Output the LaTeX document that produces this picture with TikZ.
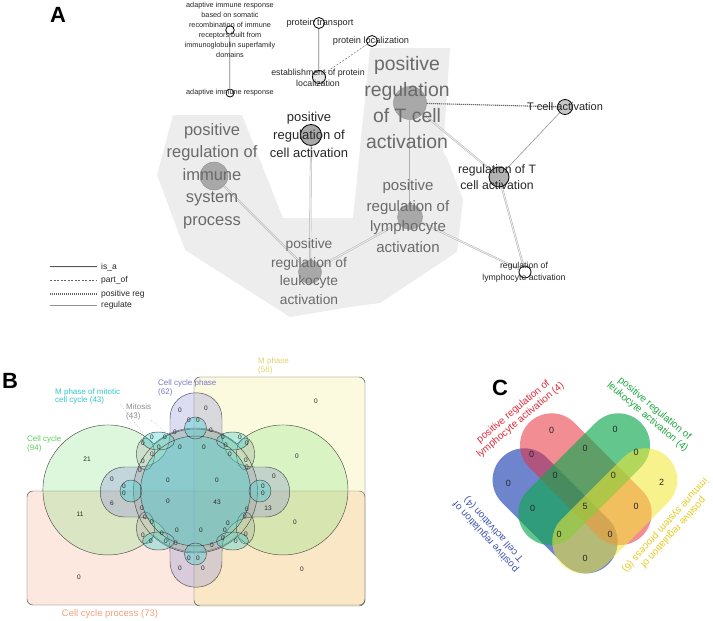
\documentclass[tikz,border=0pt]{standalone}
\usepackage{fontspec}
\setmainfont{Liberation Sans}
\usetikzlibrary{positioning}
\newcommand{\fsz}[2]{\fontsize{#1}{#2}\selectfont}
\definecolor{goFill}{HTML}{A8A8A8}
\definecolor{goRing}{HTML}{969696}
\definecolor{goText}{HTML}{6A6A6A}
\definecolor{goHull}{HTML}{EDEDED}
\definecolor{goEdge}{HTML}{AEAEAE}
\definecolor{vOrange}{HTML}{F4A582}
\definecolor{vYellow}{HTML}{F2E86A}
\definecolor{vGreen}{HTML}{78E078}
\definecolor{vPurple}{HTML}{8A8AD8}
\definecolor{vCyan}{HTML}{3CD2D2}
\definecolor{vGray}{HTML}{9A9A9A}
\definecolor{vLine}{HTML}{4A4A4A}
\definecolor{vOrangeT}{HTML}{F0A07A}
\definecolor{vYellowT}{HTML}{DDD36A}
\definecolor{vGreenT}{HTML}{5CCF5C}
\definecolor{vPurpleT}{HTML}{7878C8}
\definecolor{vCyanT}{HTML}{36C6C6}
\definecolor{vGrayT}{HTML}{8C8C8C}
\definecolor{qBlue}{HTML}{3050B8}
\definecolor{qRed}{HTML}{E8303C}
\definecolor{qGreen}{HTML}{10A850}
\definecolor{qYellow}{HTML}{F2E830}
\definecolor{qBlueT}{HTML}{4055B5}
\definecolor{qRedT}{HTML}{E02A38}
\definecolor{qGreenT}{HTML}{1EAA3C}
\definecolor{qYellowT}{HTML}{E6CA1E}
\tikzset{
  % GO graph: one circle per term, size = significance.
  go/term/.style={circle, inner sep=0pt, fill=goFill, draw=goRing, line width=0.5pt},
  go/key/.style={go/term, draw=black, line width=0.8pt},
  go/leaf/.style={go/term, fill=white, draw=black, line width=0.8pt},
  % Term names. Gray inside the summarised cluster, near black elsewhere.
  go/name/.style={align=center, inner sep=0pt, text=black!85},
  go/hub/.style={go/name, text=goText},
  % Relations, same look as in the legend.
  go/isa/.style={draw=goEdge, double=goHull, double distance=1pt, line width=0.45pt},
  go/partof/.style={draw=black!60, dash pattern=on 2pt off 1.5pt, line width=0.45pt},
  go/posreg/.style={draw=black!60, dash pattern=on 1.2pt off 0.8pt, line width=1.1pt},
  go/reg/.style={draw=goEdge!85!black, line width=0.6pt},
  go/legend/.style={font=\fsz{8.5}{9}, anchor=west, inner sep=0pt, text=black!85},
  go/panel/.style={font=\bfseries\fsz{22}{22}, inner sep=0pt},
  % Six set venn: thin dark rims, light fills.
  vb/set/.style={draw=vLine, line width=0.45pt, fill opacity=0.26},
  vb/num/.style={font=\fsz{6.5}{7}, text=black!85, inner sep=0pt},
  vb/lab/.style={font=\fsz{8}{8.5}, align=left, anchor=west, inner sep=0pt},
  vb/lead/.style={draw=black!40, dotted, line width=0.5pt},
  % Four set venn: capsules, no rims.
  vc/blob/.style={line cap=round, line width=63.4pt},
  vc/num/.style={font=\fsz{9}{9}, text=black!85, inner sep=0pt},
  vc/lab/.style={font=\fsz{10}{11}, align=center, inner sep=0pt},
}

\begin{document}
\begin{tikzpicture}[x=1pt,y=-1pt]
  \useasboundingbox (0,0) rectangle (713,621);

  % ---------------- A: GO term graph
  \node[go/panel] (panA) at (58,15) {A};
  \fill[goHull] (173,115) -- (242,115) -- (283,218) -- (353,218) -- (370,48)
    -- (450,48) -- (443,152) -- (447,158) -- (463,200) -- (457,252)
    -- (380,303) -- (350,307) -- (290,317) -- (185,250) -- (157,175) -- cycle;

  \node[go/leaf, minimum size=8.5pt] (adaSom) at (230,30) {};
  \node[go/leaf, minimum size=8pt]   (ada)    at (230,93) {};
  \node[go/leaf, minimum size=11pt]  (protTr) at (319,23) {};
  \node[go/leaf, minimum size=11pt]  (protLoc) at (372,41) {};
  \node[go/leaf, fill=black!8, minimum size=13pt] (estLoc) at (319,77) {};
  \node[go/key, minimum size=21pt]   (posCell) at (311,135) {};
  \node[go/term, minimum size=28pt]  (posImm) at (214,176) {};
  \node[go/term, minimum size=23pt]  (posLeu) at (310,272) {};
  \node[go/term, minimum size=33pt]  (posT)   at (410,103) {};
  \node[go/term, minimum size=25pt]  (posLym) at (410,217) {};
  \node[go/key, fill=black!22, minimum size=15pt] (tAct) at (565,107) {};
  \node[go/key, fill=black!30, minimum size=20pt] (regT) at (499,177) {};
  \node[go/leaf, minimum size=12pt]  (regLym) at (525,272) {};

  \draw[go/isa] (adaSom) -- (ada);
  \draw[go/isa] (protTr) -- (estLoc);
  \draw[go/partof] (protLoc) -- (estLoc);
  \draw[go/isa] (posCell) -- (posLeu);
  \draw[go/isa] (posImm) -- (posLeu);
  \draw[go/isa] (posLeu) -- (posLym);
  \draw[go/isa] (posT) -- (posLym);
  \draw[go/posreg] (posT) -- (tAct);
  \draw[go/isa] (posT) -- (regT);
  \draw[go/reg] (tAct) -- (regT);
  \draw[go/isa] (regT) -- (regLym);
  \draw[go/isa] (posLym) -- (regLym);

  \node[go/name, font=\fsz{7.3}{10}] (adaSomTxt) at (230,30)
    {adaptive immune response\\based on somatic\\recombination of immune\\receptors built from\\immunoglobulin superfamily\\domains};
  \node[go/name, font=\fsz{7.3}{10}] (adaTxt) at (230,93) {adaptive immune response};
  \node[go/name, font=\fsz{9.2}{10}] (protTrTxt) at (320,23) {protein transport};
  \node[go/name, font=\fsz{9.2}{10}] (protLocTxt) at (371,41) {protein localization};
  \node[go/name, font=\fsz{8.8}{11}] (estLocTxt) at (318,77.5) {establishment of protein\\localization};
  \node[go/name, font=\fsz{13}{18}] (posCellTxt) at (309,135) {positive\\regulation of\\cell activation};
  \node[go/hub, font=\fsz{16.5}{22.5}] (posImmTxt) at (212,176) {positive\\regulation of\\immune\\system\\process};
  \node[go/hub, font=\fsz{13.8}{18.5}] (posLeuTxt) at (309,271.5) {positive\\regulation of\\leukocyte\\activation};
  \node[go/hub, font=\fsz{19.4}{26}] (posTTxt) at (407,102.5) {positive\\regulation\\of T cell\\activation};
  \node[go/hub, font=\fsz{15}{20.5}] (posLymTxt) at (408,216) {positive\\regulation of\\lymphocyte\\activation};
  \node[go/name, font=\fsz{11}{12}] (tActTxt) at (565,107) {T cell activation};
  \node[go/name, font=\fsz{12.2}{16}] (regTTxt) at (497,177) {regulation of T\\cell activation};
  \node[go/name, font=\fsz{8.7}{12}] (regLymTxt) at (524,272) {regulation of\\lymphocyte activation};

  % legend
  \coordinate (lgIsaA) at (50,267);  \coordinate (lgIsaB) at (97,267);
  \coordinate (lgPartA) at (50,280); \coordinate (lgPartB) at (97,280);
  \coordinate (lgPosA) at (50,294);  \coordinate (lgPosB) at (97,294);
  \coordinate (lgRegA) at (50,305);  \coordinate (lgRegB) at (97,305);
  \draw[go/isa, draw=black!65] (lgIsaA) -- (lgIsaB);
  \draw[go/partof] (lgPartA) -- (lgPartB);
  \draw[go/posreg] (lgPosA) -- (lgPosB);
  \draw[go/reg] (lgRegA) -- (lgRegB);
  \node[go/legend] (lgIsa)  at (101,267) {is\_a};
  \node[go/legend] (lgPart) at (101,280) {part\_of};
  \node[go/legend] (lgPos)  at (101,294) {positive reg};
  \node[go/legend] (lgReg)  at (101,305) {regulate};

  % ---------------- B: six set venn
  \node[go/panel] (panB) at (10,381) {B};
  \filldraw[vb/set, fill=vOrange, rounded corners=6pt] (27,491) rectangle (365,605);
  \filldraw[vb/set, fill=vYellow, fill opacity=0.22, rounded corners=6pt] (194,377) rectangle (365,606);
  \filldraw[vb/set, fill=vGreen] (153.9,444) arc[start angle=315, end angle=45, radius=65]
    arc[start angle=132.1, end angle=47.9, radius=62]
    arc[start angle=135, end angle=-135, radius=65]
    arc[start angle=-47.9, end angle=-132.1, radius=62] -- cycle;
  \filldraw[vb/set, fill=vPurple, fill opacity=0.3] (170,432) -- (170,419) .. controls (170,384) and (222,384) .. (222,419)
    -- (222,432) .. controls (222,455) and (235,467) .. (255,467)
    -- (265,467) .. controls (298,467) and (298,517) .. (265,517)
    -- (255,517) .. controls (235,517) and (222,529) .. (222,552)
    -- (222,561) .. controls (222,596) and (170,596) .. (170,561)
    -- (170,552) .. controls (170,529) and (157,517) .. (137,517)
    -- (125,517) .. controls (92,517) and (92,467) .. (125,467)
    -- (137,467) .. controls (157,467) and (170,455) .. (170,432) -- cycle;
  \filldraw[vb/set, fill=vGray] (195.5,491) circle (62)
    (145.5,454) ellipse [x radius=9, y radius=16] (245.5,454) ellipse [x radius=9, y radius=16]
    (145.5,528) ellipse [x radius=9, y radius=16] (245.5,528) ellipse [x radius=9, y radius=16];
  \filldraw[vb/set, fill=vCyan, fill opacity=0.36] (195.5,491) circle (55)
    (195.5,428) circle (11) (195.5,554) circle (11) (131,491) circle (11) (260,491) circle (11)
    (158.5,441) ellipse [x radius=16, y radius=9] (232.5,441) ellipse [x radius=16, y radius=9]
    (158.5,541) ellipse [x radius=16, y radius=9] (232.5,541) ellipse [x radius=16, y radius=9];

  \foreach \x/\y/\n [count=\i] in {316/401/0, 87/459/21, 297/456/0, 80/514/11, 295/522/0,
      79/577/0, 302/569/0, 180/410/0, 206/408/0, 189/420/0, 198/420/0,
      168/480/0, 217/480/0, 168/501/0, 217/502/43, 180/447/0, 204/447/0,
      177/530/0, 201/530/0, 180/568/0, 203/568/0, 189/558/0, 198/558/0,
      112/479/0, 112/503/6, 124/486/0, 124/493/0, 274/476/0, 268/508/13, 263/486/0, 263/493/0,
      143/443/0, 152/437/0, 159/447/0, 165/437/0, 175/432/0, 152/454/0, 143/461/0, 140/470/0,
      211/430/0, 223/437/0, 240/437/0, 247/443/0, 226/445/0, 230/454/0, 246/460/0, 247/467/0,
      142/508/0, 145/517/0, 152/522/0, 143/535/0, 162/533/0, 151/541/0, 166/541/0, 176/543/0,
      247/509/0, 245/516/0, 228/523/0, 225/530/0, 246/534/0, 236/541/0, 223/538/0, 212/545/0}
    \node[vb/num] (nb\i) at (\x,\y) {\n};

  \node[vb/lab, text=vYellowT] (mpLab) at (258,366) {M phase\\(56)};
  \node[vb/lab, text=vPurpleT] (ccpLab) at (158,388) {Cell cycle phase\\(62)};
  \node[vb/lab, text=vCyanT] (mmLab) at (55,396.5) {M phase of mitotic\\cell cycle (43)};
  \node[vb/lab, text=vGrayT] (mitLab) at (126,412) {Mitosis\\(43)};
  \node[vb/lab, text=vGreenT] (ccLab) at (27,444) {Cell cycle\\(94)};
  \node[vb/lab, text=vOrangeT, font=\fsz{9.5}{10}, anchor=center] (cprLab) at (110,614) {Cell cycle process (73)};
  \coordinate (mmEnd) at (143,433);
  \coordinate (mitEnd) at (165,432);
  \draw[vb/lead] (mmLab.south east) -- (mmEnd);
  \draw[vb/lead] (mitLab.south east) -- (mitEnd);

  % ---------------- C: four set venn
  \node[go/panel] (panC) at (500,388) {C};
  \coordinate (qBlueA) at (524.3,480);   \coordinate (qBlueB) at (586,541.7);
  \coordinate (qRedA) at (551.7,445);    \coordinate (qRedB) at (620,513.3);
  \coordinate (qGreenA) at (618.3,445);  \coordinate (qGreenB) at (550,513.3);
  \coordinate (qYellowA) at (645.7,480); \coordinate (qYellowB) at (584,541.7);
  \draw[vc/blob, draw=qBlue, draw opacity=0.7] (qBlueA) -- (qBlueB);
  \draw[vc/blob, draw=qRed, draw opacity=0.55] (qRedA) -- (qRedB);
  \draw[vc/blob, draw=qGreen, draw opacity=0.65] (qGreenA) -- (qGreenB);
  \draw[vc/blob, draw=qYellow, draw opacity=0.55] (qYellowA) -- (qYellowB);

  \foreach \x/\y/\n [count=\i] in {551.7/430/0, 615/429.3/0, 531.7/454/0, 585/448.3/0,
      636/452.7/0, 508.3/483.3/0, 555/475.7/0, 613.3/475.7/0, 661.7/482.3/2,
      532.7/508.3/0, 585/506.7/5, 636/506.7/0, 559/534/0, 610/534/0, 585/558.3/0}
    \node[vc/num] (nc\i) at (\x,\y) {\n};

  \node[vc/lab, text=qRedT, rotate=40] (labRed) at (517,416) {positive regulation of\\lymphocyte activation (4)};
  \node[vc/lab, text=qGreenT, rotate=-40] (labGreen) at (651,413) {positive regulation of\\leukocyte activation (4)};
  \node[vc/lab, text=qBlueT, rotate=132] (labBlue) at (490,533) {positive regulation of\\T cell activation (4)};
  \node[vc/lab, text=qYellowT, rotate=228] (labYellow) at (669,529) {positive regulation of\\immune system process (6)};
\end{tikzpicture}
\end{document}
